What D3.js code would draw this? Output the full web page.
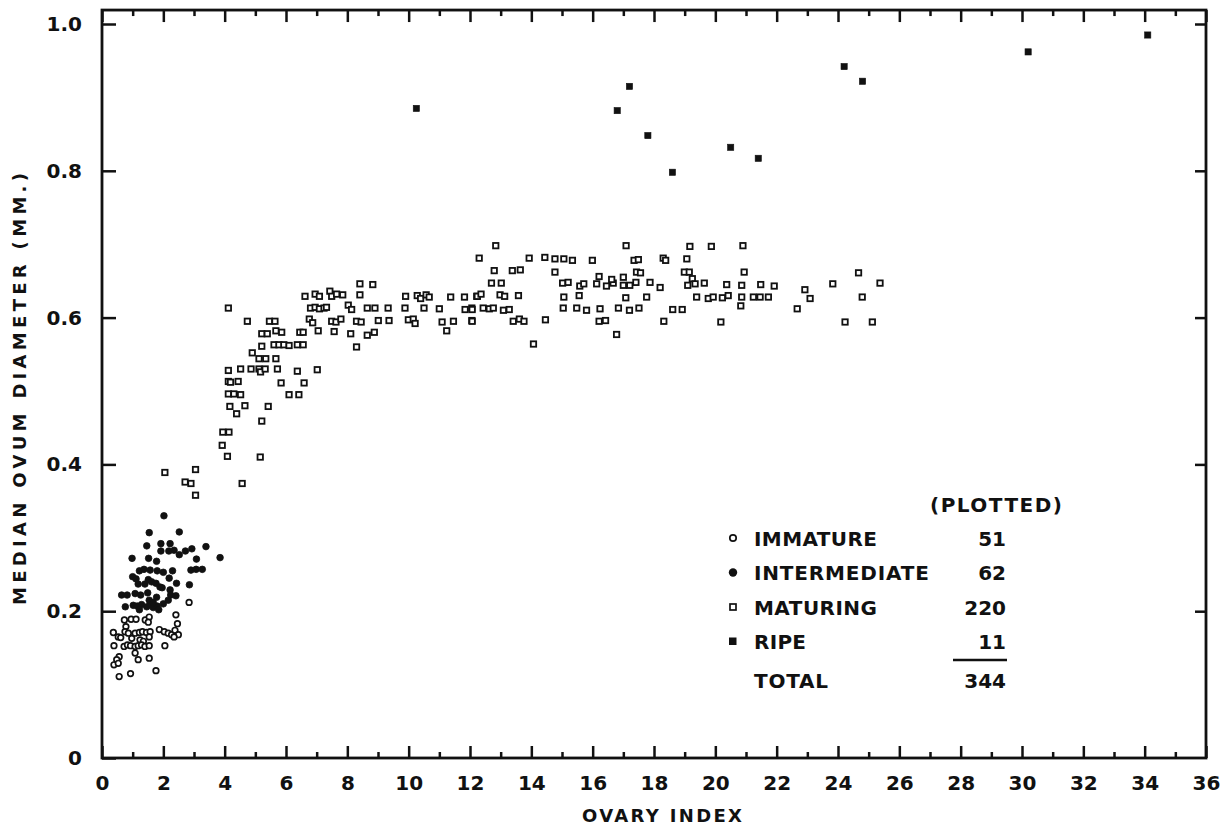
<!DOCTYPE html>
<html>
<head>
<meta charset="utf-8">
<script src="https://cdn.jsdelivr.net/npm/d3@7"></script>
<style>
  body { margin: 0; background: #fff; }
  text { font-family: 'DejaVu Sans', sans-serif; font-weight: bold; fill: #111; }
</style>
</head>
<body>
<div id="chart"></div>
<script>
// ovary index vs median ovum diameter (mm), one list per stage
const immature = [
	[2.84,0.212],[2.41,0.195],[2.46,0.183],[0.73,0.188],[0.95,0.189],[1.11,0.189],[1.41,0.188],[1.54,0.192],
	[1.51,0.185],[0.78,0.179],[0.37,0.171],[0.53,0.165],[0.61,0.164],[0.75,0.172],[0.86,0.170],[0.97,0.163],
	[1.08,0.170],[1.22,0.171],[1.32,0.172],[1.45,0.171],[1.57,0.172],[1.54,0.165],[1.24,0.161],[1.35,0.159],
	[1.87,0.175],[2.03,0.172],[2.16,0.170],[2.27,0.168],[2.38,0.174],[2.49,0.168],[2.35,0.165],[0.39,0.153],
	[0.72,0.152],[0.83,0.154],[0.93,0.153],[1.08,0.152],[1.18,0.153],[1.29,0.154],[1.40,0.152],[1.54,0.153],
	[2.05,0.153],[1.08,0.143],[0.56,0.138],[0.48,0.134],[0.39,0.127],[0.53,0.129],[1.18,0.134],[1.54,0.136],
	[0.56,0.111],[0.93,0.115],[1.76,0.119]
]

const intermediate = [
	[2.02,0.330],[1.54,0.307],[2.52,0.308],[1.46,0.289],[1.92,0.292],[2.22,0.292],[1.92,0.282],[2.18,0.282],
	[2.35,0.283],[2.52,0.277],[2.72,0.282],[2.93,0.285],[3.39,0.288],[0.98,0.272],[1.52,0.272],[1.78,0.268],
	[3.08,0.271],[3.85,0.273],[1.22,0.255],[1.37,0.257],[1.57,0.256],[1.80,0.255],[2.00,0.253],[2.30,0.255],
	[2.90,0.256],[3.07,0.257],[3.27,0.257],[1.00,0.247],[1.11,0.244],[1.51,0.243],[1.62,0.240],[1.76,0.238],
	[1.89,0.233],[1.96,0.232],[2.19,0.245],[1.18,0.237],[1.40,0.237],[2.43,0.238],[2.85,0.236],[0.64,0.222],
	[0.82,0.222],[1.08,0.224],[1.26,0.222],[1.49,0.225],[1.78,0.219],[2.22,0.229],[2.24,0.222],[2.41,0.221],
	[0.76,0.206],[1.02,0.208],[1.15,0.207],[1.29,0.209],[1.46,0.206],[1.57,0.209],[1.67,0.205],[1.80,0.207],
	[2.00,0.210],[1.54,0.215],[1.67,0.212],[2.16,0.215],[1.22,0.202],[1.85,0.202]
]

const maturing = [
	// rising limb
	[4.12,0.513],[4.44,0.513],[5.84,0.511],[6.59,0.511],[4.12,0.496],[4.30,0.496],[4.52,0.495],[6.10,0.495],
	[6.42,0.495],[4.17,0.479],[4.66,0.480],[5.42,0.479],[4.39,0.469],[5.21,0.459],[3.94,0.444],[4.14,0.444],
	[3.92,0.426],[4.09,0.411],[5.16,0.410],[2.05,0.389],[3.05,0.393],[2.71,0.376],[2.90,0.374],[4.57,0.374],
	[3.05,0.358],[4.19,0.512],
	[5.21,0.561],[5.61,0.563],[5.77,0.563],[5.93,0.563],[6.10,0.562],[6.37,0.563],[6.56,0.563],[8.30,0.560],
	[4.90,0.552],[5.12,0.544],[5.34,0.544],[5.67,0.544],[4.12,0.528],[4.52,0.530],[4.86,0.530],[5.12,0.530],
	[5.17,0.526],[5.32,0.530],[5.72,0.530],[6.37,0.527],[7.02,0.529],
	[5.21,0.578],[5.39,0.578],[5.67,0.582],[5.86,0.580],[6.45,0.580],[6.56,0.580],[7.05,0.582],[7.57,0.581],
	[8.11,0.578],[8.65,0.576],[8.88,0.580],[11.24,0.582],
	// plateau, index 4 - 12
	[8.41,0.646],[8.83,0.645],[6.62,0.629],[6.95,0.632],[7.09,0.629],[7.43,0.636],[7.49,0.629],[7.65,0.632],
	[7.85,0.631],[8.41,0.631],[9.90,0.629],[10.28,0.630],[10.39,0.626],[10.57,0.631],[10.67,0.628],[11.37,0.628],
	[11.82,0.628],[12.22,0.629],[4.12,0.613],[6.80,0.613],[6.95,0.614],[7.09,0.612],[7.24,0.613],[7.32,0.614],
	[8.03,0.617],[8.14,0.611],[8.65,0.613],[8.90,0.613],[9.33,0.613],[9.88,0.613],[10.50,0.613],[11.00,0.612],
	[11.84,0.611],[12.06,0.613],[4.74,0.595],[5.46,0.595],[5.64,0.595],[6.76,0.598],[6.87,0.593],[7.49,0.595],
	[7.63,0.594],[7.79,0.598],[8.30,0.595],[8.45,0.594],[9.01,0.596],[9.36,0.596],[9.99,0.597],[10.15,0.598],
	[10.21,0.592],[11.09,0.594],[11.46,0.595],[12.06,0.596],
	// plateau, index 12 - 26
	[12.84,0.698],[17.09,0.698],[19.17,0.697],[19.87,0.697],[20.90,0.698],[12.30,0.681],[13.93,0.681],[14.44,0.682],
	[14.77,0.680],[15.06,0.680],[15.34,0.678],[15.99,0.678],[17.35,0.678],[17.49,0.679],[18.30,0.681],[18.38,0.678],
	[19.07,0.680],[12.79,0.664],[13.38,0.664],[13.64,0.665],[14.77,0.662],[17.43,0.662],[17.56,0.661],[18.99,0.662],
	[19.15,0.662],[20.94,0.662],[24.67,0.661],[12.70,0.647],[13.02,0.647],[15.02,0.647],[15.20,0.648],[15.58,0.643],
	[15.71,0.646],[16.13,0.646],[16.45,0.643],[16.67,0.647],[17.00,0.644],[17.21,0.644],[17.41,0.648],[17.87,0.648],
	[18.20,0.641],[16.21,0.656],[16.62,0.652],[17.00,0.655],[19.25,0.653],[19.10,0.644],[19.34,0.646],[19.64,0.647],
	[20.37,0.645],[20.86,0.644],[21.48,0.645],[21.92,0.643],[22.92,0.638],[23.83,0.646],[25.37,0.647],[12.24,0.629],
	[12.36,0.632],[12.98,0.631],[13.13,0.629],[13.58,0.630],[15.06,0.628],[15.56,0.630],[17.08,0.627],[17.76,0.628],
	[19.39,0.628],[19.77,0.626],[19.93,0.628],[20.23,0.627],[20.42,0.630],[20.86,0.628],[21.24,0.628],[21.46,0.628],
	[21.73,0.628],[23.09,0.626],[24.79,0.628],[12.07,0.611],[12.43,0.613],[12.63,0.612],[12.76,0.613],[13.09,0.610],
	[13.28,0.611],[15.04,0.613],[15.48,0.613],[15.80,0.610],[16.24,0.612],[16.84,0.613],[17.20,0.610],[17.51,0.613],
	[18.61,0.611],[18.92,0.611],[20.83,0.616],[22.67,0.612],[12.07,0.595],[13.41,0.595],[13.61,0.598],[13.76,0.595],
	[14.46,0.597],[16.21,0.595],[16.42,0.596],[18.32,0.595],[20.18,0.594],[24.23,0.594],[25.12,0.594],[16.78,0.577],
	[14.07,0.564]
]

const ripe = [
	[10.25,0.885],[16.8,0.882],[17.2,0.915],[17.8,0.848],[18.6,0.798],[20.5,0.832],
	[21.4,0.817],[24.2,0.942],[24.8,0.922],[30.2,0.962],[34.1,0.985]
]

// legend rows: stage name and number plotted
const stages = ['IMMATURE', 'INTERMEDIATE', 'MATURING', 'RIPE']
const plotted = [51, 62, 220, 11]
const total = 344

const xMajor = d3.range(0, 37, 2)
const xMinor = d3.range(1, 36, 2)
const yMajor = [0, 0.2, 0.4, 0.6, 0.8, 1.0]

var width = 1221
var height = 827

var x = d3.scaleLinear().domain([0, 36]).range([102, 1206])
var y = d3.scaleLinear().domain([0, 1]).range([758, 24])
var yTop = 1.019

var svg = d3.select('#chart')
	.append('svg')
	.attr('width', width)
	.attr('height', height)

svg.append('rect')
	.attr('width', width)
	.attr('height', height)
	.attr('fill', '#fff')

// inward ticks on all four sides
function styleAxis(g) {
	g.select('.domain').remove()
	g.selectAll('.tick line').attr('stroke', '#111').attr('stroke-width', 2.5)
	g.selectAll('.tick text').style('font-size', '20px').attr('fill', '#111')
}

svg.append('g')
	.attr('transform', `translate(0,${y(0)})`)
	.call(d3.axisBottom(x).tickValues(xMajor).tickSize(-12).tickPadding(18).tickFormat(d3.format('d')))
	.call(styleAxis)

svg.append('g')
	.attr('transform', `translate(0,${y(0)})`)
	.call(d3.axisBottom(x).tickValues(xMinor).tickSize(-6).tickFormat(''))
	.call(styleAxis)

svg.append('g')
	.attr('transform', `translate(0,${y(yTop)})`)
	.call(d3.axisTop(x).tickValues(xMajor).tickSize(-12).tickFormat(''))
	.call(styleAxis)

svg.append('g')
	.attr('transform', `translate(0,${y(yTop)})`)
	.call(d3.axisTop(x).tickValues(xMinor).tickSize(-6).tickFormat(''))
	.call(styleAxis)

svg.append('g')
	.attr('transform', `translate(${x(0)},0)`)
	.call(d3.axisLeft(y).tickValues(yMajor).tickSize(-14).tickPadding(20)
		.tickFormat(d => d === 0 ? '0' : d3.format('.1f')(d)))
	.call(styleAxis)

svg.append('g')
	.attr('transform', `translate(${x(36)},0)`)
	.call(d3.axisRight(y).tickValues(yMajor.slice(1)).tickSize(-11).tickFormat(''))
	.call(styleAxis)

// frame
svg.append('rect')
	.attr('x', x(0))
	.attr('y', y(yTop))
	.attr('width', x(36) - x(0))
	.attr('height', y(0) - y(yTop))
	.attr('fill', 'none')
	.attr('stroke', '#111')
	.attr('stroke-width', 2.8)

// axis titles
svg.append('text')
	.attr('x', 662)
	.attr('y', 822)
	.attr('text-anchor', 'middle')
	.attr('textLength', 160)
	.style('font-size', '18px')
	.text('OVARY INDEX')

svg.append('text')
	.attr('transform', `translate(26,${(y(0) + y(1)) / 2 - 2}) rotate(-90)`)
	.attr('text-anchor', 'middle')
	.attr('textLength', 432)
	.style('font-size', '18px')
	.text('MEDIAN OVUM DIAMETER (MM.)')

// point symbols
var marks = svg.append('g')

function drawCircles(data, r, filled) {
	marks.selectAll(null)
		.data(data)
		.enter()
		.append('circle')
		.attr('cx', d => x(d[0]))
		.attr('cy', d => y(d[1]))
		.attr('r', r)
		.attr('fill', filled ? '#111' : '#fff')
		.attr('stroke', '#111')
		.attr('stroke-width', filled ? 0.8 : 1.7)
}

function drawSquares(data, s, filled) {
	marks.selectAll(null)
		.data(data)
		.enter()
		.append('rect')
		.attr('x', d => x(d[0]) - s / 2)
		.attr('y', d => y(d[1]) - s / 2)
		.attr('width', s)
		.attr('height', s)
		.attr('fill', filled ? '#111' : '#fff')
		.attr('stroke', '#111')
		.attr('stroke-width', filled ? 0.6 : 1.8)
}

drawCircles(immature, 2.8, false)
drawCircles(intermediate, 3.3, true)
drawSquares(maturing, 5.4, false)
drawSquares(ripe, 6.2, true)

// legend
var legend = svg.append('g')
var rowY = d3.scaleLinear().domain([0, 1]).range([538, 572.5])
var nameLen = [123, 175, 123, 52]

legend.append('text')
	.attr('x', 1062)
	.attr('y', 512)
	.attr('text-anchor', 'end')
	.attr('textLength', 132)
	.style('font-size', '20px')
	.text('(PLOTTED)')

stages.forEach((name, i) => {
	var cy = rowY(i)
	if (i === 0) legend.append('circle').attr('cx', 733).attr('cy', cy).attr('r', 3.2)
		.attr('fill', '#fff').attr('stroke', '#111').attr('stroke-width', 1.7)
	if (i === 1) legend.append('circle').attr('cx', 733).attr('cy', cy).attr('r', 4.2).attr('fill', '#111')
	if (i === 2) legend.append('rect').attr('x', 730).attr('y', cy - 3).attr('width', 6).attr('height', 6)
		.attr('fill', '#fff').attr('stroke', '#111').attr('stroke-width', 1.7)
	if (i === 3) legend.append('rect').attr('x', 729).attr('y', cy - 4).attr('width', 7.5).attr('height', 7.5).attr('fill', '#111')

	legend.append('text')
		.attr('x', 754)
		.attr('y', cy + 7.5)
		.attr('textLength', nameLen[i])
		.style('font-size', '20px')
		.text(name)

	legend.append('text')
		.attr('x', 1006)
		.attr('y', cy + 7.5)
		.attr('text-anchor', 'end')
		.style('font-size', '20px')
		.text(plotted[i])
})

legend.append('line')
	.attr('x1', 953).attr('x2', 1007)
	.attr('y1', 660).attr('y2', 660)
	.attr('stroke', '#111')
	.attr('stroke-width', 2.4)

legend.append('text')
	.attr('x', 754)
	.attr('y', 687.5)
	.attr('textLength', 74)
	.style('font-size', '20px')
	.text('TOTAL')

legend.append('text')
	.attr('x', 1006)
	.attr('y', 687.5)
	.attr('text-anchor', 'end')
	.style('font-size', '20px')
	.text(total)
</script>
</body>
</html>
